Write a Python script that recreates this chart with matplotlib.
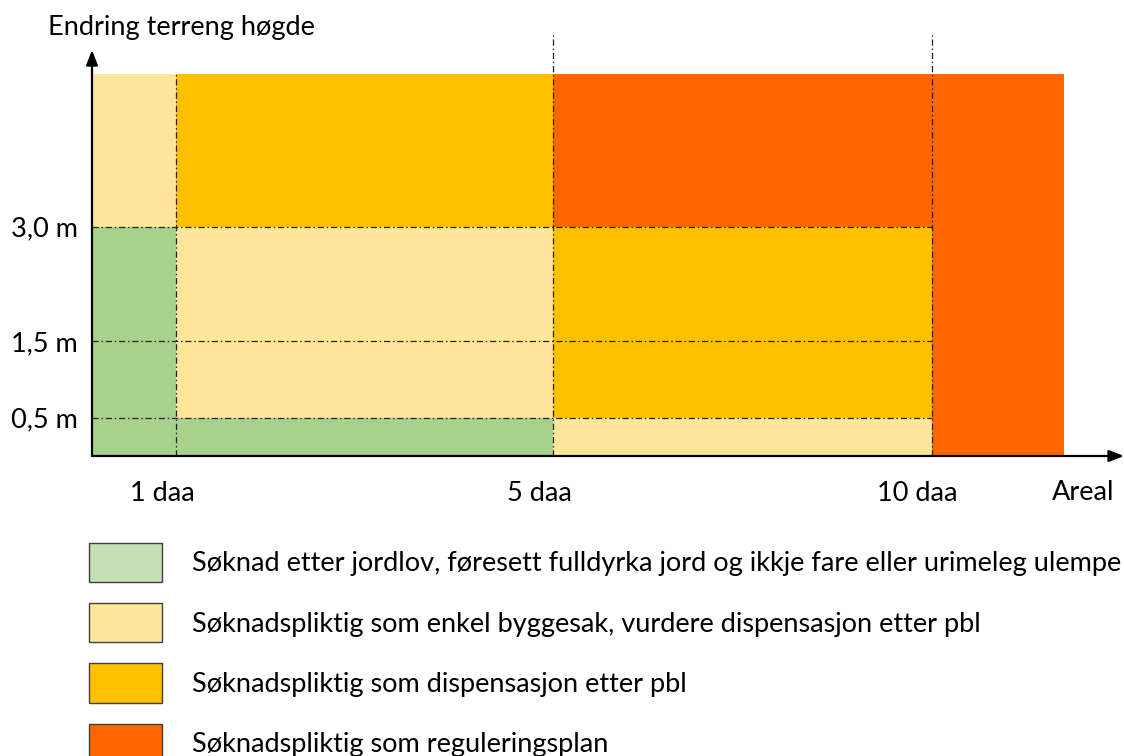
import numpy as np
import matplotlib
matplotlib.use('Agg')
import matplotlib.pyplot as plt
import matplotlib.transforms as mtransforms
from matplotlib.patches import Patch

plt.rcParams['font.family'] = ['Lato', 'DejaVu Sans']

# area (daa) and height (m) breaks of the zone grid
area_edges = [0, 1, 5, 10, 12]
height_edges = [0, 0.5, 1.5, 3.0, 5.0]
area_ticks = [1, 5, 10]
area_labels = ['1 daa', '5 daa', '10 daa']
height_ticks = [0.5, 1.5, 3.0]
height_labels = ['0,5 m', '1,5 m', '3,0 m']

# zone index per cell, rows bottom -> top, columns left -> right
zones = [
    [0, 0, 1, 3],
    [0, 1, 2, 3],
    [0, 1, 2, 3],
    [1, 2, 3, 3],
]

zone_labels = [
    'Søknad etter jordlov, føresett fulldyrka jord og ikkje fare eller urimeleg ulempe',
    'Søknadspliktig som enkel byggesak, vurdere dispensasjon etter pbl',
    'Søknadspliktig som dispensasjon etter pbl',
    'Søknadspliktig som reguleringsplan',
]
zone_colors = ['#A9D18E', '#FFE699', '#FFC000', '#FF6600']
legend_colors = ['#C5E0B4', '#FFE699', '#FFC000', '#FF6600']

# the x axis is not to scale in the original, map daa -> drawing position
daa_pts = [0, 1, 5, 10, 12, 13]
pos_pts = [0, 1, 5.49, 10, 11.58, 12.29]


def fwd(x):
    return np.interp(x, daa_pts, pos_pts)


def inv(x):
    return np.interp(x, pos_pts, daa_pts)


W, H = 1124, 756
fig = plt.figure(figsize=(W / 100, H / 100), dpi=100)
ax = fig.add_axes([92 / W, 1 - 456 / H, (W - 92) / W, (456 - 30) / H])
ax.set_xscale('function', functions=(fwd, inv))
ax.set_xlim(0, 13)
ax.set_ylim(0, (456 - 30) / 76.4)

# zone cells
for r in range(len(height_edges) - 1):
    lefts = area_edges[:-1]
    widths = np.diff(area_edges)
    cols = [zone_colors[z] for z in zones[r]]
    ax.bar(lefts, height_edges[r + 1] - height_edges[r], width=widths,
           bottom=height_edges[r], align='edge', color=cols, linewidth=0, zorder=1)

dashdot = (0, (5, 2.2, 1.2, 2.2))
ax.hlines(height_ticks, 0, area_ticks[-1], colors='#222222', linewidth=0.9,
          linestyles=[dashdot], zorder=2)
ax.vlines(area_ticks[0], 0, height_edges[-1], colors='#222222', linewidth=0.9,
          linestyles=[dashdot], zorder=2)
ax.vlines(area_ticks[1:], 0, 5.54, colors='#222222', linewidth=0.9,
          linestyles=[dashdot], zorder=2)

for s in ax.spines.values():
    s.set_visible(False)

# axis arrows
ax.annotate('', xy=(0, 0.953), xytext=(0, 0), xycoords='axes fraction',
            arrowprops=dict(arrowstyle='-|>,head_length=0.9,head_width=0.35',
                            color='black', lw=1.6, shrinkA=0, shrinkB=0), zorder=5)
ax.annotate('', xy=(1.0, 0), xytext=(0, 0), xycoords='axes fraction',
            arrowprops=dict(arrowstyle='-|>,head_length=0.9,head_width=0.35',
                            color='black', lw=1.6, shrinkA=0, shrinkB=0), zorder=5)

fs = 19.5
ax.set_xticks(area_ticks, area_labels, fontsize=fs)
ax.set_yticks(height_ticks, height_labels, fontsize=fs)
ax.tick_params(axis='x', length=0, pad=18)
ax.tick_params(axis='y', length=0, pad=10)
shift = mtransforms.ScaledTranslation(-14 / 100, 0, fig.dpi_scale_trans)
for lab in ax.get_xticklabels():
    lab.set_transform(lab.get_transform() + shift)

fig.text(1083 / W, 1 - 492 / H, 'Areal', fontsize=fs, ha='center', va='center')
fig.text(48 / W, 1 - 28 / H, 'Endring terreng høgde', fontsize=fs, ha='left', va='center')

handles = [Patch(facecolor=c, edgecolor='#404040', linewidth=1) for c in legend_colors]
fig.legend(handles, zone_labels, loc='upper left', bbox_to_anchor=(89 / W, 1 - 543 / H),
           frameon=False, fontsize=fs, handlelength=2.7, handleheight=1.845,
           labelspacing=0.78, handletextpad=1.1, borderpad=0, borderaxespad=0)

fig.savefig('out.png', dpi=100)
